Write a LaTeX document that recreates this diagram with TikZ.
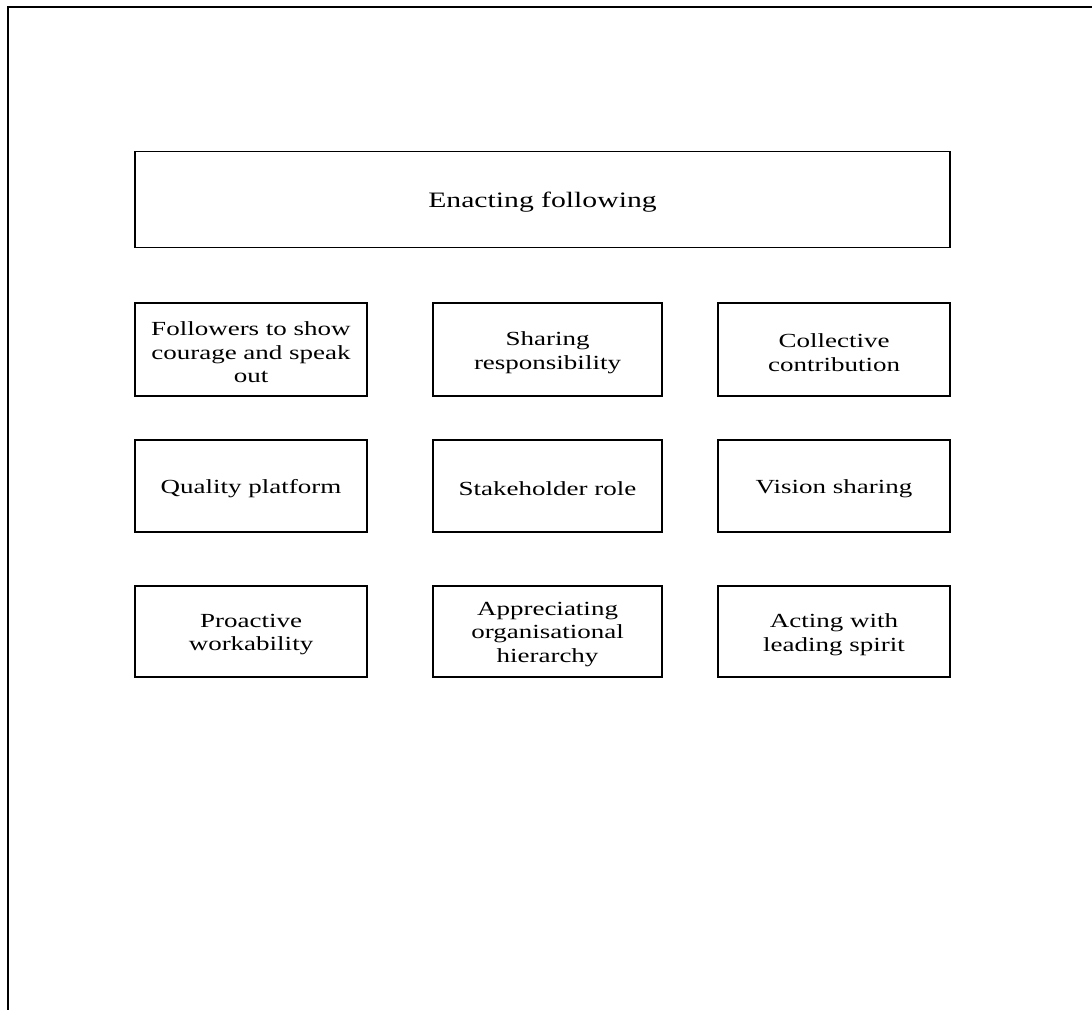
\documentclass[tikz,border=0pt]{standalone}
\usepackage{fontspec}
\setmainfont{Liberation Serif}[FakeStretch=1.35]
\begin{document}
\begin{tikzpicture}[x=1pt,y=-1pt,
  frameline/.style={line width=1.6pt, black},
  boxshape/.style={draw, line width=1.2pt, rectangle, inner sep=0pt},
  catlabel/.style={inner sep=0pt, align=center, yshift=-3pt,
    font=\fontsize{20}{23.5}\selectfont},
  titlelabel/.style={inner sep=0pt, align=center, yshift=-3pt,
    font=\fontsize{22}{26}\selectfont}]
  \useasboundingbox (0,0) rectangle (1092,1010);
  % partial outer frame: top and left edges
  \coordinate (ftr) at (1092,7);
  \coordinate (ftl) at (8,7);
  \coordinate (fbl) at (8,1010);
  \draw[frameline] (ftr) -- (ftl) -- (fbl);

  % heading box
  \node[boxshape, minimum width=815pt, minimum height=96pt] (title) at (542.5,199.5) {};
  \node[titlelabel] (titletext) at (title.center) {Enacting following};

  % grid of themes: boxes
  \node[boxshape, minimum width=232pt, minimum height=93pt] (a1) at (251,349.5) {};
  \node[boxshape, minimum width=229pt, minimum height=93pt] (a2) at (547.5,349.5) {};
  \node[boxshape, minimum width=232pt, minimum height=93pt] (a3) at (834,349.5) {};
  \node[boxshape, minimum width=232pt, minimum height=92pt] (b1) at (251,486) {};
  \node[boxshape, minimum width=229pt, minimum height=92pt] (b2) at (547.5,486) {};
  \node[boxshape, minimum width=232pt, minimum height=92pt] (b3) at (834,486) {};
  \node[boxshape, minimum width=232pt, minimum height=91pt] (c1) at (251,631.5) {};
  \node[boxshape, minimum width=229pt, minimum height=91pt] (c2) at (547.5,631.5) {};
  \node[boxshape, minimum width=232pt, minimum height=91pt] (c3) at (834,631.5) {};

  % grid of themes: labels
  \node[catlabel] (a1t) at (a1.center) {Followers to show\\courage and speak\\out};
  \node[catlabel] (a2t) at (a2.center) {Sharing\\responsibility};
  \node[catlabel] (a3t) at (a3.center) {Collective\\contribution};
  \node[catlabel] (b1t) at (b1.center) {Quality platform};
  \node[catlabel] (b2t) at (b2.center) {Stakeholder role};
  \node[catlabel] (b3t) at (b3.center) {Vision sharing};
  \node[catlabel] (c1t) at (c1.center) {Proactive\\workability};
  \node[catlabel] (c2t) at (c2.center) {Appreciating\\organisational\\hierarchy};
  \node[catlabel] (c3t) at (c3.center) {Acting with\\leading spirit};
\end{tikzpicture}
\end{document}
